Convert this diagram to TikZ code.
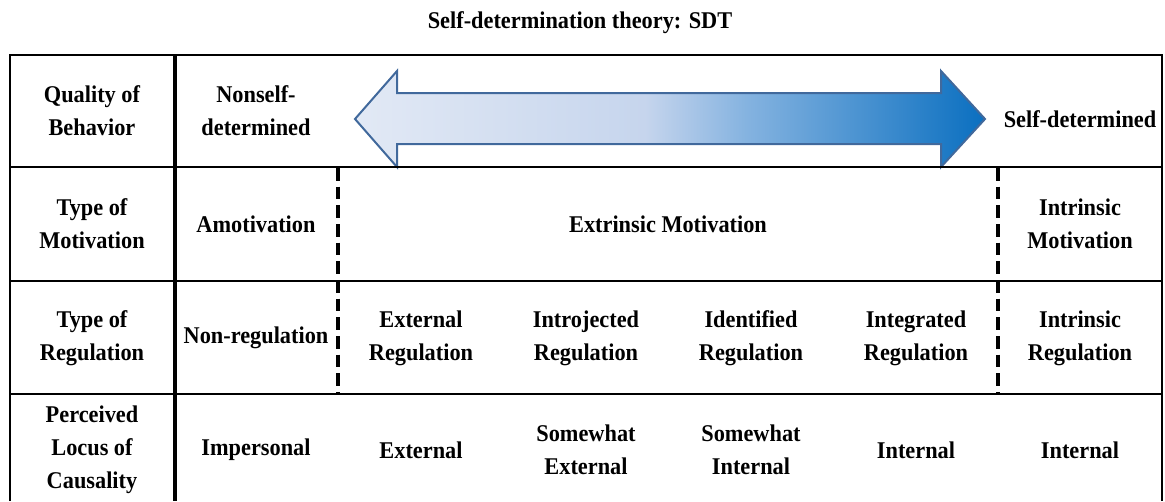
\documentclass[tikz,border=0pt]{standalone}
\usepackage{fontspec}
\setmainfont{Liberation Serif}[FakeStretch=0.93]
\definecolor{shA}{HTML}{E2E9F5}
\definecolor{shB}{HTML}{C6D5ED}
\definecolor{shC}{HTML}{85B3E0}
\definecolor{shD}{HTML}{0A6FC0}
\definecolor{arrline}{HTML}{41699C}
\pgfdeclarehorizontalshading{sdtshade}{100bp}{color(0bp)=(shA); color(25bp)=(shA); color(48bp)=(shB); color(56bp)=(shC); color(75bp)=(shD); color(100bp)=(shD)}
\tikzset{
  txt/.style={align=center, font=\fontsize{18}{24.75}\selectfont\bfseries, inner sep=0pt},
  rowline/.style={line width=1.6pt},
  outline/.style={line width=2pt},
  thickline/.style={line width=3.4pt},
  dashline/.style={line width=2.5pt, dash pattern=on 9.5pt off 4.5pt},
}
\begin{document}
\begin{tikzpicture}[x=0.75pt, y=-0.75pt]
\useasboundingbox (0,0) rectangle (1165,501);
% arrow
\draw[arrline, line width=1.5pt, shading=sdtshade]
  (355,119) -- (397,71) -- (397,93) -- (941,93) -- (941,71) -- (985,119)
  -- (941,167) -- (941,144) -- (397,144) -- (397,167) -- cycle;
% grid
\draw[outline] (10,501) -- (10,55) -- (1162,55) -- (1162,501);
\draw[rowline] (10,167) -- (1162,167);
\draw[rowline] (10,281) -- (1162,281);
\draw[rowline] (10,394) -- (1162,394);
\draw[thickline] (175,55) -- (175,501);
\draw[dashline] (338,168) -- (338,394);
\draw[dashline] (998,168) -- (998,394);
% title
\node[txt] (title) at (580,23) {Self-determination theory: SDT};
% column 1
\node[txt] (h1) at (92,111) {Quality of\\Behavior};
\node[txt] (h2) at (92,224) {Type of\\Motivation};
\node[txt] (h3) at (92,338) {Type of\\Regulation};
\node[txt] (h4) at (92,450) {Perceived\\Locus of\\Causality};
% row 1
\node[txt] (nsd) at (256,111) {Nonself-\\determined};
\node[txt] (sd) at (1080,119) {Self-determined};
% row 2
\node[txt] (amo) at (256,224) {Amotivation};
\node[txt] (ext) at (668,224) {Extrinsic Motivation};
\node[txt] (intm) at (1080,224) {Intrinsic\\Motivation};
% row 3
\node[txt] (nonreg) at (256,338) {Non-regulation};
\node[txt] (extreg) at (421,338) {External\\Regulation};
\node[txt] (introreg) at (586,338) {Introjected\\Regulation};
\node[txt] (identreg) at (751,338) {Identified\\Regulation};
\node[txt] (integreg) at (916,338) {Integrated\\Regulation};
\node[txt] (intreg) at (1080,338) {Intrinsic\\Regulation};
% row 4
\node[txt] (imp) at (256,450) {Impersonal};
\node[txt] (exter) at (421,450) {External};
\node[txt] (swext) at (586,450) {Somewhat\\External};
\node[txt] (swint) at (751,450) {Somewhat\\Internal};
\node[txt] (inter) at (916,450) {Internal};
\node[txt] (inter2) at (1080,450) {Internal};
\end{tikzpicture}
\end{document}
